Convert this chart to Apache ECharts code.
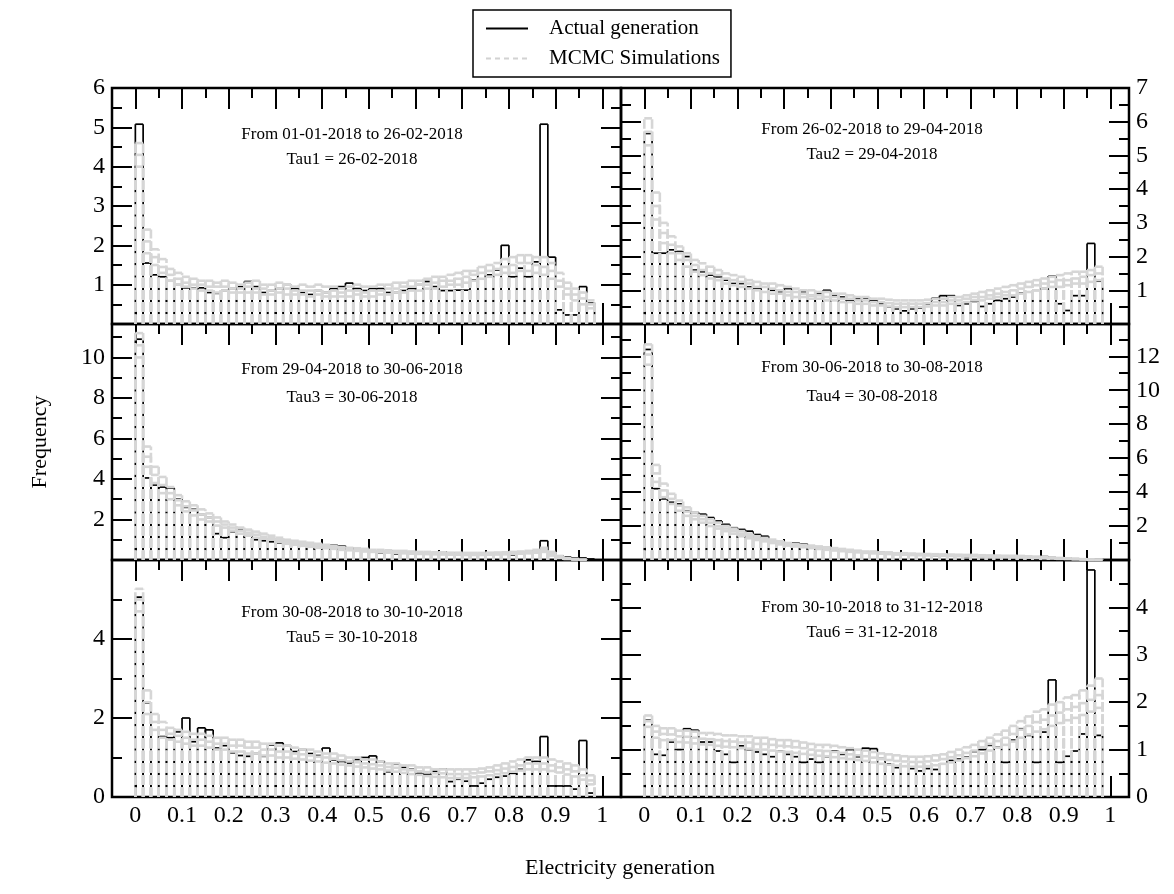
<!DOCTYPE html>
<html><head><meta charset="utf-8">
<script src="https://cdn.jsdelivr.net/npm/echarts@6/dist/echarts.min.js"></script>
<style>html,body{margin:0;padding:0;background:#fff}#c{width:1174px;height:894px}</style>
</head><body><div id="c"></div>
<script>
// ---------------- DATA ----------------
const binCount = 60;               // histogram bins on [0, 1]
const xTickLabels = ['0','0.1','0.2','0.3','0.4','0.5','0.6','0.7','0.8','0.9','1'];
const periodLabels = [
  'From 01-01-2018 to 26-02-2018','From 26-02-2018 to 29-04-2018',
  'From 29-04-2018 to 30-06-2018','From 30-06-2018 to 30-08-2018',
  'From 30-08-2018 to 30-10-2018','From 30-10-2018 to 31-12-2018'];
const tauLabels = ['Tau1 = 26-02-2018','Tau2 = 29-04-2018','Tau3 = 30-06-2018',
  'Tau4 = 30-08-2018','Tau5 = 30-10-2018','Tau6 = 31-12-2018'];
const yTickLabels1 = [1,2,3,4,5,6];
const yTickLabels2 = [1,2,3,4,5,6,7];
const yTickLabels3 = [2,4,6,8,10];
const yTickLabels4 = [2,4,6,8,10,12];
const yTickLabels5 = [0,2,4];
const yTickLabels6 = [0,1,2,3,4];
const yMaxes = [6, 7, 11.65, 13.9, 6, 5];
const yMajorSteps = [1, 1, 2, 2, 2, 1];
const yMinorSteps = [0.5, 0.5, 1, 1, 1, 0.5];

const actual1 = [5.08,1.55,1.25,1.2,1.1,1.0,0.92,0.92,0.92,0.8,0.78,0.85,0.9,0.95,1.08,0.95,0.8,0.85,0.9,1.0,0.9,0.8,0.75,0.85,0.8,0.9,0.95,1.04,0.9,0.85,0.9,0.9,0.8,0.8,0.85,0.9,1.0,1.08,0.95,0.85,0.85,0.86,0.86,1.12,1.3,1.25,1.37,2.0,1.2,1.42,1.2,1.58,5.08,1.7,0.36,0.23,0.23,0.95,0.53];
const simA1 = [4.6,2.4,1.9,1.65,1.4,1.3,1.2,1.15,1.1,1.1,1.05,1.1,1.05,1.0,1.05,1.1,1.0,1.0,1.05,1.0,0.95,1.0,0.95,1.0,0.95,0.95,0.9,0.95,1.0,0.95,0.95,1.0,1.0,1.05,1.05,1.1,1.1,1.15,1.2,1.2,1.25,1.3,1.35,1.35,1.45,1.5,1.55,1.65,1.7,1.75,1.75,1.7,1.7,1.55,1.3,1.05,0.9,0.8,0.6];
const simB1 = [4.3,2.1,1.7,1.45,1.25,1.15,1.05,1.0,1.0,0.95,0.95,0.95,0.9,0.9,0.95,0.9,0.9,0.85,0.9,0.9,0.85,0.85,0.85,0.85,0.8,0.85,0.8,0.85,0.85,0.8,0.85,0.85,0.9,0.9,0.95,0.95,1.0,1.0,1.05,1.1,1.1,1.15,1.2,1.25,1.3,1.35,1.4,1.45,1.5,1.55,1.55,1.5,1.45,1.35,1.1,0.9,0.75,0.65,0.5];
const simC1 = [4.0,1.8,1.5,1.3,1.1,1.0,0.95,0.9,0.85,0.85,0.8,0.85,0.8,0.8,0.8,0.8,0.75,0.75,0.8,0.75,0.75,0.75,0.7,0.75,0.7,0.7,0.7,0.7,0.75,0.7,0.7,0.75,0.75,0.8,0.8,0.85,0.85,0.9,0.9,0.95,1.0,1.0,1.05,1.1,1.15,1.2,1.25,1.3,1.3,1.35,1.35,1.3,1.25,1.15,0.95,0.75,0.6,0.5,0.4];

const actual2 = [5.65,2.1,2.1,2.2,2.15,2.0,1.6,1.55,1.45,1.4,1.3,1.2,1.2,1.1,1.05,1.1,1.0,0.95,1.05,0.95,0.95,0.85,0.9,1.0,0.85,0.8,0.7,0.75,0.77,0.7,0.6,0.5,0.45,0.39,0.45,0.47,0.6,0.77,0.84,0.84,0.55,0.6,0.67,0.52,0.6,0.7,0.75,0.8,0.92,0.95,1.0,1.05,1.42,0.6,0.4,0.84,0.84,2.39,1.27];
const simA2 = [6.1,3.9,3.0,2.6,2.3,2.1,1.9,1.8,1.7,1.6,1.5,1.45,1.4,1.3,1.25,1.2,1.2,1.15,1.1,1.05,1.0,1.0,0.95,0.95,0.9,0.9,0.85,0.8,0.8,0.75,0.75,0.72,0.7,0.7,0.7,0.7,0.72,0.75,0.75,0.8,0.8,0.85,0.9,0.95,1.0,1.05,1.1,1.15,1.2,1.25,1.3,1.35,1.4,1.45,1.5,1.55,1.55,1.6,1.7];
const simB2 = [5.7,3.5,2.7,2.35,2.1,1.9,1.75,1.6,1.5,1.45,1.35,1.3,1.25,1.2,1.1,1.1,1.05,1.0,0.95,0.95,0.9,0.85,0.85,0.8,0.8,0.75,0.75,0.7,0.7,0.65,0.65,0.62,0.6,0.6,0.6,0.6,0.62,0.65,0.65,0.7,0.7,0.75,0.8,0.8,0.85,0.9,0.95,1.0,1.05,1.1,1.15,1.2,1.25,1.3,1.3,1.35,1.4,1.45,1.5];
const simC2 = [5.3,3.1,2.4,2.1,1.9,1.7,1.55,1.45,1.35,1.3,1.2,1.15,1.1,1.05,1.0,0.95,0.9,0.9,0.85,0.8,0.8,0.75,0.75,0.7,0.7,0.65,0.65,0.6,0.6,0.55,0.55,0.52,0.5,0.5,0.5,0.5,0.52,0.55,0.55,0.6,0.6,0.65,0.7,0.7,0.75,0.8,0.85,0.85,0.9,0.95,1.0,1.05,1.1,1.1,1.15,1.2,1.2,1.25,1.3];

const actual3 = [10.9,4.05,3.7,3.6,3.55,3.0,2.6,2.5,2.25,2.1,1.3,1.1,1.4,1.5,1.2,1.0,0.95,0.9,0.85,0.8,0.75,0.8,0.7,0.75,0.7,0.73,0.7,0.6,0.5,0.45,0.4,0.35,0.35,0.3,0.35,0.4,0.3,0.3,0.35,0.4,0.35,0.3,0.3,0.25,0.3,0.35,0.3,0.3,0.25,0.3,0.35,0.4,0.95,0.4,0.2,0.15,0.1,0.1,0.05];
const simA3 = [11.2,5.6,4.6,4.1,3.6,3.2,2.9,2.7,2.5,2.3,2.1,1.9,1.75,1.6,1.5,1.4,1.3,1.2,1.1,1.0,0.95,0.9,0.85,0.8,0.75,0.7,0.65,0.6,0.58,0.55,0.5,0.5,0.48,0.45,0.45,0.42,0.4,0.4,0.38,0.38,0.36,0.36,0.35,0.35,0.35,0.36,0.37,0.38,0.4,0.42,0.45,0.5,0.6,0.4,0.2,0.1,0.05,0.02,0.0];
const simB3 = [10.6,5.1,4.2,3.7,3.3,2.95,2.65,2.45,2.25,2.1,1.9,1.75,1.6,1.45,1.35,1.25,1.15,1.1,1.0,0.9,0.85,0.8,0.75,0.7,0.65,0.6,0.58,0.55,0.5,0.48,0.45,0.44,0.42,0.4,0.38,0.36,0.35,0.34,0.33,0.32,0.31,0.3,0.3,0.3,0.3,0.31,0.32,0.33,0.35,0.36,0.38,0.42,0.5,0.3,0.15,0.08,0.04,0.01,0.0];
const simC3 = [10.0,4.6,3.8,3.3,3.0,2.7,2.4,2.2,2.0,1.9,1.7,1.6,1.45,1.3,1.2,1.1,1.05,1.0,0.9,0.8,0.75,0.7,0.65,0.6,0.58,0.55,0.5,0.48,0.45,0.42,0.4,0.38,0.36,0.35,0.33,0.31,0.3,0.29,0.28,0.27,0.26,0.26,0.25,0.25,0.25,0.26,0.27,0.28,0.3,0.31,0.33,0.36,0.4,0.22,0.1,0.05,0.02,0.0,0.0];

const actual4 = [12.4,4.2,3.6,3.4,3.3,2.9,2.8,2.7,2.5,2.3,2.1,1.9,1.8,1.7,1.5,1.4,1.1,1.0,0.9,1.0,0.95,0.8,0.75,0.7,0.6,0.55,0.5,0.5,0.45,0.4,0.45,0.4,0.35,0.3,0.35,0.3,0.3,0.25,0.25,0.3,0.25,0.2,0.25,0.2,0.2,0.2,0.15,0.2,0.2,0.15,0.1,0.2,0.15,0.1,0.1,0.05,0.05,0.0,0.0];
const simA4 = [12.7,5.6,4.5,3.9,3.5,3.1,2.8,2.6,2.4,2.2,2.0,1.85,1.7,1.55,1.4,1.3,1.2,1.1,1.0,0.95,0.9,0.85,0.8,0.75,0.7,0.65,0.6,0.55,0.5,0.5,0.45,0.45,0.4,0.4,0.38,0.36,0.35,0.34,0.33,0.32,0.31,0.3,0.3,0.28,0.27,0.26,0.25,0.25,0.24,0.22,0.2,0.18,0.15,0.12,0.1,0.08,0.05,0.03,0.02];
const simB4 = [12.1,5.1,4.1,3.6,3.2,2.85,2.6,2.4,2.2,2.0,1.85,1.7,1.55,1.4,1.3,1.2,1.1,1.0,0.92,0.87,0.82,0.77,0.72,0.68,0.63,0.58,0.54,0.5,0.46,0.44,0.41,0.4,0.36,0.35,0.33,0.32,0.31,0.3,0.29,0.28,0.27,0.26,0.26,0.24,0.23,0.22,0.21,0.21,0.2,0.18,0.16,0.14,0.12,0.1,0.08,0.06,0.04,0.02,0.01];
const simC4 = [11.5,4.6,3.7,3.3,2.9,2.6,2.4,2.2,2.0,1.85,1.7,1.55,1.4,1.28,1.18,1.1,1.0,0.92,0.85,0.8,0.75,0.7,0.65,0.6,0.56,0.52,0.48,0.45,0.42,0.4,0.37,0.35,0.32,0.31,0.29,0.28,0.27,0.26,0.25,0.24,0.23,0.22,0.22,0.2,0.19,0.18,0.17,0.17,0.16,0.14,0.12,0.1,0.09,0.07,0.06,0.04,0.03,0.01,0.0];

const actual5 = [5.06,2.38,1.7,1.53,1.5,1.65,2.0,1.4,1.75,1.7,1.24,1.3,1.12,1.05,1.03,1.1,1.03,1.32,1.37,1.3,1.15,1.2,1.1,1.05,1.24,0.94,0.9,0.86,0.95,1.0,1.04,0.9,0.64,0.83,0.75,0.7,0.6,0.57,0.65,0.71,0.39,0.45,0.4,0.28,0.35,0.45,0.5,0.53,0.6,0.7,0.94,0.9,1.53,0.28,0.28,0.28,0.2,1.43,0.1];
const simA5 = [5.27,2.7,2.1,1.9,1.75,1.7,1.65,1.6,1.6,1.55,1.5,1.5,1.45,1.45,1.4,1.4,1.35,1.35,1.3,1.3,1.25,1.2,1.2,1.15,1.1,1.1,1.05,1.0,1.0,0.95,0.95,0.9,0.85,0.85,0.8,0.8,0.75,0.75,0.7,0.7,0.7,0.7,0.7,0.7,0.72,0.75,0.8,0.85,0.9,0.95,1.0,1.0,1.0,0.95,0.9,0.85,0.8,0.7,0.55];
const simB5 = [5.0,2.4,1.9,1.7,1.6,1.55,1.5,1.45,1.45,1.4,1.35,1.35,1.3,1.3,1.25,1.25,1.2,1.2,1.15,1.15,1.1,1.08,1.05,1.02,1.0,0.97,0.93,0.9,0.88,0.85,0.83,0.8,0.76,0.74,0.7,0.68,0.65,0.63,0.6,0.6,0.58,0.58,0.58,0.6,0.62,0.65,0.68,0.72,0.76,0.8,0.85,0.85,0.85,0.8,0.75,0.7,0.65,0.55,0.42];
const simC5 = [4.7,2.1,1.7,1.5,1.45,1.4,1.35,1.3,1.3,1.25,1.2,1.2,1.15,1.15,1.1,1.1,1.05,1.05,1.0,1.0,0.97,0.95,0.92,0.9,0.87,0.85,0.82,0.8,0.77,0.75,0.72,0.7,0.67,0.64,0.61,0.58,0.56,0.53,0.51,0.5,0.48,0.48,0.48,0.5,0.52,0.55,0.58,0.6,0.64,0.67,0.7,0.7,0.7,0.66,0.62,0.57,0.52,0.44,0.32];

const actual6 = [1.62,0.9,0.88,1.16,1.0,1.44,1.41,1.16,1.16,0.97,0.9,0.73,1.08,1.0,0.95,0.9,0.85,0.97,0.9,0.85,0.73,0.8,0.73,0.85,0.97,0.9,1.0,0.85,1.03,1.02,0.81,0.7,0.62,0.65,0.6,0.55,0.6,0.58,0.7,0.77,0.8,0.84,0.96,1.0,1.09,1.05,0.73,1.2,1.44,1.3,0.73,1.37,2.47,0.73,0.86,0.97,1.33,4.79,1.3];
const simA6 = [1.72,1.5,1.45,1.45,1.4,1.4,1.38,1.35,1.35,1.33,1.3,1.3,1.28,1.28,1.25,1.25,1.22,1.2,1.2,1.18,1.15,1.12,1.1,1.1,1.08,1.05,1.03,1.0,0.98,0.95,0.92,0.9,0.88,0.86,0.85,0.85,0.86,0.88,0.9,0.95,1.0,1.05,1.1,1.18,1.25,1.32,1.4,1.5,1.6,1.7,1.8,1.85,1.95,2.0,2.1,2.15,2.25,2.35,2.5];
const simB6 = [1.6,1.38,1.33,1.32,1.28,1.27,1.25,1.23,1.22,1.2,1.18,1.17,1.15,1.15,1.12,1.12,1.1,1.08,1.07,1.05,1.03,1.0,0.98,0.97,0.95,0.93,0.9,0.88,0.86,0.83,0.8,0.78,0.76,0.75,0.74,0.74,0.75,0.77,0.8,0.84,0.88,0.93,0.98,1.05,1.12,1.18,1.25,1.33,1.42,1.5,1.58,1.63,1.72,1.78,1.85,1.9,1.98,2.05,2.15];
const simC6 = [1.48,1.25,1.2,1.2,1.16,1.15,1.13,1.11,1.1,1.08,1.06,1.05,1.03,1.02,1.0,1.0,0.98,0.96,0.95,0.93,0.91,0.89,0.87,0.86,0.84,0.82,0.8,0.78,0.76,0.73,0.7,0.68,0.66,0.65,0.64,0.64,0.65,0.67,0.7,0.73,0.77,0.82,0.86,0.92,0.98,1.04,1.1,1.17,1.25,1.32,1.38,1.43,1.5,1.56,1.62,1.67,1.73,1.8,1.88];

const actualSets = [actual1, actual2, actual3, actual4, actual5, actual6];
const simSets = [[simA1,simB1,simC1],[simA2,simB2,simC2],[simA3,simB3,simC3],
                 [simA4,simB4,simC4],[simA5,simB5,simC5],[simA6,simB6,simC6]];
const yTickLabelSets = [yTickLabels1,yTickLabels2,yTickLabels3,yTickLabels4,yTickLabels5,yTickLabels6];

// ---------------- LAYOUT / STYLE ----------------
const FONT = "'Liberation Serif','Times New Roman',serif";
const colLeft = [112, 621], colWidth = [509, 508];
const rowTop = [88, 324, 560], rowHeight = [236, 236, 237];
const X_MIN = -0.05, X_MAX = 1.04;
const textCenterX = [352, 872];
const textOffsetY = [[47, 72],[42, 67],[46, 74],[44, 73],[53, 78],[48, 73]];
const GRAY = '#d6d6d6';
const TICK_FONT = 24;

function toBins(vals) {
  return vals.map((v, i) => [i / binCount, (i + 1) / binCount, v]);
}
function histRender(style) {
  return function (params, api) {
    const x0 = api.value(0), x1 = api.value(1), h = api.value(2);
    if (!(h > 0)) return null;
    const b0 = api.coord([x0, 0]), t0 = api.coord([x0, h]);
    const t1 = api.coord([x1, h]), b1 = api.coord([x1, 0]);
    const mk = (a, b) => ({ type: 'line', shape: { x1: a[0], y1: a[1], x2: b[0], y2: b[1] },
      style: Object.assign({ fill: null }, style) });
    return { type: 'group', children: [mk(b0, t0), mk(t0, t1), mk(b1, t1)] };
  };
}
function fmtLabels(list) {
  return function (v) {
    for (const l of list) if (Math.abs(v - l) < 1e-6) return String(l);
    return '';
  };
}

const grid = [], xAxis = [], yAxis = [], series = [], graphic = [];
const tickLine = { color: '#000', width: 2 };
for (let p = 0; p < 6; p++) {
  const r = Math.floor(p / 2), c = p % 2;
  const L = colLeft[c], W = colWidth[c], T = rowTop[r], H = rowHeight[r];
  const gFrame = grid.length;
  grid.push({ left: L, top: T, width: W, height: H, show: true, borderColor: '#000',
    borderWidth: 2.5, backgroundColor: 'transparent' });
  const gInner = grid.length;
  const innerLeft = L + W * (0 - X_MIN) / (X_MAX - X_MIN);
  const innerW = W * 1 / (X_MAX - X_MIN);
  grid.push({ left: innerLeft, top: T, width: innerW, height: H });

  xAxis.push({ gridIndex: gFrame, type: 'value', min: 0, max: 1, show: false });
  const yMax = yMaxes[p];
  const yLab = yTickLabelSets[p];
  const mkY = (pos, step, len, labels) => ({
    gridIndex: gFrame, type: 'value', position: pos, min: 0, max: yMax, interval: step,
    axisLine: { show: false, onZero: false }, splitLine: { show: false },
    axisTick: { show: true, inside: true, length: len, lineStyle: tickLine },
    axisLabel: labels ? { show: true, formatter: fmtLabels(yLab), fontFamily: FONT, fontSize: TICK_FONT,
      color: '#000', margin: 7, showMinLabel: true, showMaxLabel: true } : { show: false }
  });
  yAxis.push(mkY('left', yMajorSteps[p], 20, c === 0));
  yAxis.push(mkY('left', yMinorSteps[p], 10, false));
  yAxis.push(mkY('right', yMajorSteps[p], 20, c === 1));
  yAxis.push(mkY('right', yMinorSteps[p], 10, false));

  const xIdx = xAxis.length;
  const mkX = (pos, labels) => ({
    gridIndex: gInner, type: 'value', position: pos, min: 0, max: 1, interval: 0.1,
    axisLine: { show: false, onZero: false }, splitLine: { show: false },
    axisTick: { show: true, inside: true, length: 21, lineStyle: tickLine },
    minorTick: { show: true, splitNumber: 2, length: 10, lineStyle: tickLine },
    axisLabel: labels ? { show: true, fontFamily: FONT, fontSize: TICK_FONT, color: '#000', margin: 7,
      formatter: v => { const i = Math.round(v * 10); return xTickLabels[i] || ''; } } : { show: false }
  });
  xAxis.push(mkX('bottom', r === 2));
  xAxis.push(mkX('top', false));
  const yIdx = yAxis.length;
  yAxis.push({ gridIndex: gInner, type: 'value', min: 0, max: yMax, show: false,
    axisLine: { onZero: false } });

  series.push({
    type: 'custom', xAxisIndex: xIdx, yAxisIndex: yIdx, z: 2, silent: true,
    renderItem: histRender({ stroke: '#000', lineWidth: 1.7 }),
    encode: { x: [0, 1], y: 2 }, data: toBins(actualSets[p])
  });
  simSets[p].forEach((s, k) => {
    series.push({
      type: 'custom', xAxisIndex: xIdx, yAxisIndex: yIdx, z: 3 + k, silent: true,
      renderItem: histRender({ stroke: GRAY, lineWidth: 2.6, lineDash: [9.6, 2.6] }),
      encode: { x: [0, 1], y: 2 }, data: toBins(s)
    });
  });
  if (p === 0) {
    const hidden = { color: 'rgba(0,0,0,0)', borderColor: 'rgba(0,0,0,0)', borderWidth: 0, opacity: 0 };
    series.push({ name: 'Actual generation', type: 'line', xAxisIndex: xIdx, yAxisIndex: yIdx,
      data: [], symbol: 'none', lineStyle: { color: '#000', width: 2 }, itemStyle: hidden });
    series.push({ name: 'MCMC Simulations', type: 'line', xAxisIndex: xIdx, yAxisIndex: yIdx,
      data: [], symbol: 'none', lineStyle: { color: '#d2d2d2', width: 1.5, type: [5, 4] },
      itemStyle: hidden });
  }
  graphic.push({ type: 'text', x: textCenterX[c], y: T + textOffsetY[p][0], z: 10,
    style: { text: periodLabels[p], font: '17px ' + FONT, fill: '#000',
      textAlign: 'center', textVerticalAlign: 'middle', align: 'center', verticalAlign: 'middle' } });
  graphic.push({ type: 'text', x: textCenterX[c], y: T + textOffsetY[p][1], z: 10,
    style: { text: tauLabels[p], font: '17px ' + FONT, fill: '#000',
      textAlign: 'center', textVerticalAlign: 'middle', align: 'center', verticalAlign: 'middle' } });
}
graphic.push({ type: 'text', x: 40, y: 442, rotation: Math.PI / 2, z: 10,
  style: { text: 'Frequency', font: '22px ' + FONT, fill: '#000',
    textAlign: 'center', textVerticalAlign: 'middle', align: 'center', verticalAlign: 'middle' } });
graphic.push({ type: 'text', x: 620, y: 868, z: 10,
  style: { text: 'Electricity generation', font: '22px ' + FONT, fill: '#000',
    textAlign: 'center', textVerticalAlign: 'middle', align: 'center', verticalAlign: 'middle' } });

const chart = echarts.init(document.getElementById('c'), null, { renderer: 'canvas' });
chart.setOption({
  animation: false,
  backgroundColor: '#fff',
  grid, xAxis, yAxis, series, graphic,
  legend: {
    data: [
      { name: 'Actual generation', itemStyle: { opacity: 0 } },
      { name: 'MCMC Simulations', itemStyle: { opacity: 0 } }
    ],
    orient: 'vertical', left: 473, top: 10,
    itemWidth: 42, itemHeight: 14, itemGap: 9,
    padding: [8, 11, 8, 12], borderColor: '#000', borderWidth: 1.5,
    selectedMode: false,
    textStyle: { fontFamily: FONT, fontSize: 21, color: '#000', lineHeight: 21, padding: [0, 0, 0, 16] }
  }
});
</script></body></html>
